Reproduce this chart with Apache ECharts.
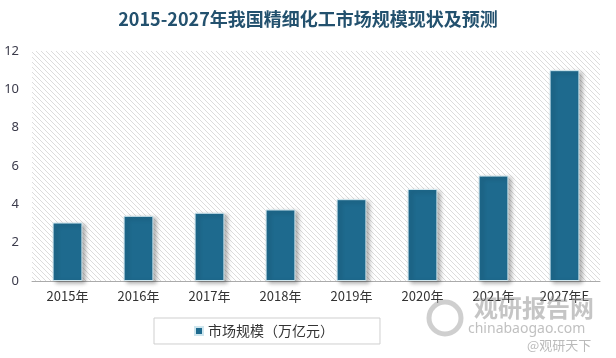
<!DOCTYPE html>
<html><head><meta charset="utf-8">
<script src="https://cdn.jsdelivr.net/npm/echarts@6/dist/echarts.min.js"></script>
<style>html,body{margin:0;padding:0;background:#fff}#c{width:616px;height:358px}</style>
</head><body><div id="c"></div>
<script>
const categories = ['2015年','2016年','2017年','2018年','2019年','2020年','2021年','2027年E'];
const marketSize = [3.05, 3.4, 3.56, 3.73, 4.27, 4.8, 5.5, 11.0];
const seriesName = '市场规模（万亿元）';
const titleText = '2015-2027年我国精细化工市场规模现状及预测';

const pc = document.createElement('canvas');
pc.width = 5; pc.height = 5;
const g = pc.getContext('2d');
g.fillStyle = '#ffffff'; g.fillRect(0,0,5,5);
g.strokeStyle = '#dcdcdc'; g.lineWidth = 1;
g.beginPath();
g.moveTo(-1,-1); g.lineTo(6,6);
g.moveTo(-1,4); g.lineTo(1,6);
g.moveTo(4,-1); g.lineTo(6,1);
g.stroke();

const chart = echarts.init(document.getElementById('c'));
chart.setOption({
  animation: false,
  backgroundColor: '#fff',
  title: {
    text: titleText, left: 'center', top: 5,
    textStyle: {fontFamily: 'Noto Sans CJK SC', fontSize: 18, fontWeight: 'bold', color: '#23516e'}
  },
  grid: {
    left: 32, right: 16, top: 51, bottom: 77, show: true,
    borderWidth: 0,
    backgroundColor: {image: pc, repeat: 'repeat'}
  },
  legend: {
    data: [seriesName], left: 154, top: 318,
    borderColor: '#cfcfcf', borderWidth: 1,
    padding: [6, 46, 6, 40],
    itemWidth: 8, itemHeight: 8, icon: 'rect',
    textStyle: {fontFamily: 'Noto Sans CJK SC', fontSize: 14, color: '#333'}
  },
  xAxis: {
    type: 'category', data: categories,
    axisLine: {lineStyle: {color: '#aaa', width: 1}},
    axisTick: {show: false},
    axisLabel: {fontFamily: 'Noto Sans CJK SC', fontSize: 13, color: '#333', margin: 9}
  },
  yAxis: {
    type: 'value', min: 0, max: 12, interval: 2,
    splitLine: {show: false},
    axisLine: {show: false}, axisTick: {show: false},
    axisLabel: {fontFamily: 'Noto Sans', fontSize: 13, color: '#3a3a4a', margin: 13}
  },
  series: [{
    name: seriesName, type: 'bar', data: marketSize, barWidth: '42%',
    itemStyle: {
      color: '#1e6a8e', borderColor: '#cfe6ee', borderWidth: 1,
      shadowColor: 'rgba(0,0,0,0.3)', shadowBlur: 4, shadowOffsetX: 3, shadowOffsetY: 2
    }
  }],
  graphic: [
    {type: 'text', left: 474, top: 296, silent: true, z: 100,
     style: {text: '观研报告网', fontFamily: 'Noto Sans CJK SC', fontSize: 24, fontWeight: 'bold', fill: 'rgba(150,150,150,0.55)'}},
    {type: 'text', left: 468, top: 322, silent: true, z: 100,
     style: {text: 'chinabaogao.com', fontFamily: 'Noto Sans', fontSize: 14, fill: 'rgba(150,150,150,0.6)'}},
    {type: 'circle', shape: {cx: 445, cy: 318, r: 16}, silent: true, z: 100,
     style: {fill: 'none', stroke: 'rgba(160,160,160,0.5)', lineWidth: 5}},
    {type: 'text', left: 527, top: 339, silent: true, z: 100,
     style: {text: '@观研天下', fontFamily: 'Noto Sans CJK SC', fontSize: 13, fill: 'rgba(140,140,140,0.6)'}}
  ]
});
</script></body></html>
